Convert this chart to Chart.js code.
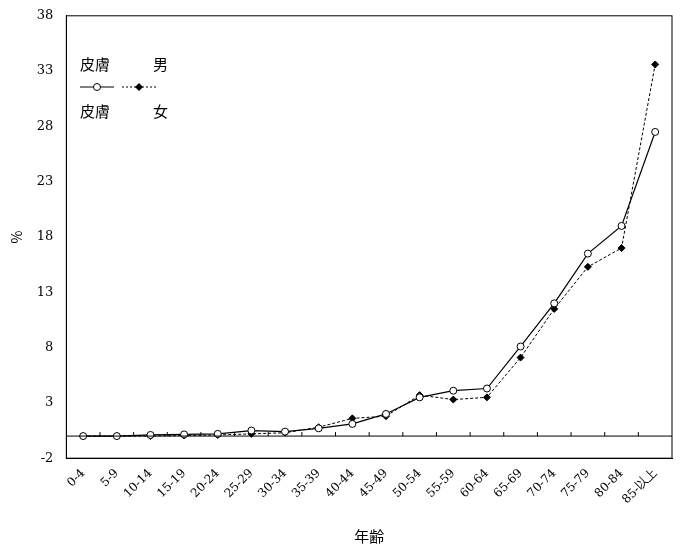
<!DOCTYPE html>
<html><head><meta charset="utf-8">
<script src="https://cdn.jsdelivr.net/npm/chart.js@4/dist/chart.umd.min.js"></script>
<style>body{margin:0;background:#fff}#wrap{width:683px;height:551px}</style>
</head><body><div id="wrap"><canvas id="c"></canvas></div>
<script>
const ageGroups = ['0-4','5-9','10-14','15-19','20-24','25-29','30-34','35-39','40-44','45-49','50-54','55-59','60-64','65-69','70-74','75-79','80-84','85-以上'];
const male = [0, 0, 0.1, 0.15, 0.2, 0.5, 0.4, 0.7, 1.1, 2.0, 3.5, 4.1, 4.3, 8.1, 12.0, 16.5, 19.0, 27.5];
const female = [0, 0, 0, 0.05, 0.1, 0.2, 0.3, 0.8, 1.6, 1.8, 3.7, 3.3, 3.5, 7.1, 11.5, 15.3, 17.0, 33.6];
const yTicks = [-2, 3, 8, 13, 18, 23, 28, 33, 38];
const font = '"Noto Sans CJK JP", sans-serif';
const numFont = '"DejaVu Serif", serif';

const extras = {
  id: 'extras',
  afterDatasetsDraw(chart) {
    const {ctx, scales: {x, y}, chartArea: a} = chart;
    ctx.save();
    ctx.strokeStyle = '#000'; ctx.lineWidth = 1;
    ctx.strokeRect(a.left, a.top, a.right - a.left, a.bottom - a.top);
    // zero line with category ticks
    const y0 = y.getPixelForValue(0);
    ctx.beginPath(); ctx.moveTo(a.left, y0); ctx.lineTo(a.right, y0); ctx.stroke();
    const w = x.getPixelForValue(1) - x.getPixelForValue(0);
    for (let i = 1; i < ageGroups.length; i++) {
      const px = x.getPixelForValue(i) - w / 2;
      ctx.beginPath(); ctx.moveTo(px, y0); ctx.lineTo(px, y0 - 4); ctx.stroke();
    }
    // legend
    ctx.fillStyle = '#000'; ctx.font = '15px ' + font; ctx.textBaseline = 'middle';
    ctx.fillText('皮膚', 80, 64); ctx.fillText('男', 153, 64);
    ctx.fillText('皮膚', 80, 111); ctx.fillText('女', 153, 111);
    ctx.beginPath(); ctx.moveTo(80, 87); ctx.lineTo(114, 87); ctx.stroke();
    ctx.beginPath(); ctx.arc(97, 87, 3.5, 0, Math.PI * 2); ctx.fillStyle = '#fff'; ctx.fill(); ctx.stroke();
    ctx.setLineDash([2, 2]);
    ctx.beginPath(); ctx.moveTo(122, 87); ctx.lineTo(158, 87); ctx.stroke();
    ctx.setLineDash([]);
    ctx.fillStyle = '#000';
    ctx.beginPath(); ctx.moveTo(139, 83); ctx.lineTo(143, 87); ctx.lineTo(139, 91); ctx.lineTo(135, 87); ctx.closePath(); ctx.fill();
    ctx.restore();
  }
};

new Chart(document.getElementById('c'), {
  type: 'line',
  data: {
    labels: ageGroups,
    datasets: [
      { label: '皮膚 男', data: male, borderColor: '#000', borderWidth: 1.2, pointStyle: 'circle', pointRadius: 3.5,
        pointBackgroundColor: '#fff', pointBorderColor: '#000', pointBorderWidth: 1, tension: 0 },
      { label: '皮膚 女', data: female, borderColor: '#000', borderWidth: 1, borderDash: [3, 2], pointStyle: 'rectRot', pointRadius: 3.5,
        pointBackgroundColor: '#000', pointBorderColor: '#000', tension: 0 }
    ]
  },
  options: {
    animation: false, responsive: true, maintainAspectRatio: false,
    layout: { padding: { top: 14, right: 11, left: 4, bottom: 2 } },
    plugins: { legend: { display: false }, tooltip: { enabled: false } },
    scales: {
      x: {
        offset: true,
        grid: { display: false, drawTicks: false },
        border: { color: '#000' },
        ticks: { color: '#000', font: { family: numFont, size: 12 }, maxRotation: 45, minRotation: 45, autoSkip: false, padding: 8 },
        title: { display: true, text: '年齢', color: '#000', font: { family: font, size: 15 }, padding: { top: 12 } }
      },
      y: {
        min: -2, max: 38,
        afterBuildTicks: s => { s.ticks = yTicks.map(v => ({ value: v })); },
        grid: { display: false, drawTicks: true, tickLength: 5 },
        border: { color: '#000' },
        ticks: { color: '#000', font: { family: numFont, size: 13 }, padding: 8 },
        title: { display: true, text: '%', color: '#000', font: { family: font, size: 14 } }
      }
    }
  },
  plugins: [extras]
});
</script></body></html>
